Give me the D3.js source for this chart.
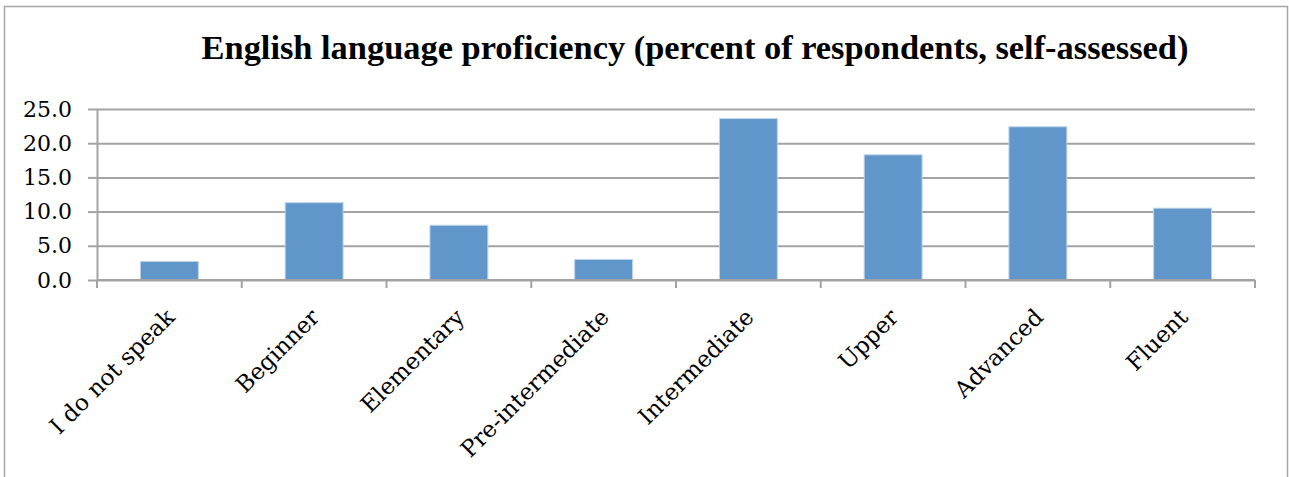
<!DOCTYPE html>
<html>
<head>
<meta charset="utf-8">
<script src="https://cdn.jsdelivr.net/npm/d3@7"></script>
<style>
  body { margin: 0; background: #fff; }
  svg { display: block; }
</style>
</head>
<body>
<div id="chart"></div>
<script>
// data
let categories = ["I do not speak", "Beginner", "Elementary", "Pre-intermediate",
    "Intermediate", "Upper", "Advanced", "Fluent"]
let values = [2.7, 11.3, 8.0, 3.0, 23.6, 18.3, 22.4, 10.5]
let yTicks = [0, 5, 10, 15, 20, 25]
let title = "English language proficiency (percent of respondents, self-assessed)"

let width = 1289, height = 477
let plot = { left: 97, right: 1255, top: 109, bottom: 280 }
let serif = "'DejaVu Serif', serif"
let gridColor = "#a3a3a3"

let svg = d3.select("#chart")
    .append("svg")
    .attr("width", width)
    .attr("height", height)

// outer frame of the chart object
svg.append("rect")
    .attr("x", 4.5)
    .attr("y", 6.5)
    .attr("width", 1283)
    .attr("height", 490)
    .attr("fill", "none")
    .attr("stroke", "#a6a6a6")
    .attr("stroke-width", 1.5)

// title
let titleText = svg.append("text")
    .attr("x", 695)
    .attr("y", 59)
    .attr("text-anchor", "middle")
    .style("font-family", "'Liberation Serif', serif")
    .style("font-weight", "bold")
    .style("font-size", "31px")
    .style("fill", "#000")
    .text(title)
// fit font size so the title spans the same width as the reference
let tw = titleText.node().getComputedTextLength()
titleText.style("font-size", (31 * 987 / tw).toFixed(2) + "px")

let x = d3.scaleBand()
    .domain(categories)
    .range([plot.left, plot.right])
    .paddingInner(0.6)
    .paddingOuter(0.3)

let y = d3.scaleLinear()
    .domain([0, 25])
    .range([plot.bottom, plot.top])

// horizontal gridlines
let grid = svg.append("g")
    .attr("transform", "translate(" + plot.left + ",0)")
    .call(d3.axisLeft(y).tickValues(yTicks).tickSize(-(plot.right - plot.left)).tickFormat(""))
grid.select(".domain").remove()
grid.selectAll("line")
    .attr("stroke", gridColor)
    .attr("stroke-width", 2)

// y axis with ticks and labels
let yAxis = svg.append("g")
    .attr("transform", "translate(" + plot.left + ",0)")
    .call(d3.axisLeft(y).tickValues(yTicks).tickSize(9).tickSizeOuter(0).tickPadding(16).tickFormat(d3.format(".1f")))
yAxis.select(".domain")
    .attr("stroke", gridColor)
    .attr("stroke-width", 2)
yAxis.selectAll("line")
    .attr("stroke", gridColor)
    .attr("stroke-width", 2)
yAxis.selectAll("text")
    .style("font-family", serif)
    .style("font-size", "22px")
    .style("fill", "#000")

// bars
svg.selectAll(".bar")
    .data(values)
    .enter()
    .append("rect")
    .attr("class", "bar")
    .attr("x", function (d, i) { return x(categories[i]) })
    .attr("y", function (d) { return y(d) })
    .attr("width", x.bandwidth())
    .attr("height", function (d) { return y(0) - y(d) })
    .attr("fill", "#6096c9")
    .attr("stroke", "#bcd2ea")
    .attr("stroke-width", 1)

// x axis: baseline and ticks between categories (Excel style)
svg.append("line")
    .attr("x1", plot.left)
    .attr("x2", plot.right)
    .attr("y1", y(0))
    .attr("y2", y(0))
    .attr("stroke", gridColor)
    .attr("stroke-width", 2)

let bounds = d3.range(categories.length + 1).map(function (i) {
    return x.range()[0] + i * x.step()
})
svg.selectAll(".xtick")
    .data(bounds)
    .enter()
    .append("line")
    .attr("class", "xtick")
    .attr("x1", function (d) { return d })
    .attr("x2", function (d) { return d })
    .attr("y1", y(0))
    .attr("y2", y(0) + 8)
    .attr("stroke", gridColor)
    .attr("stroke-width", 2)

// rotated category labels
svg.selectAll(".xlabel")
    .data(categories)
    .enter()
    .append("text")
    .attr("class", "xlabel")
    .attr("transform", function (d) {
        return "translate(" + (x(d) + x.bandwidth() / 2 + 1) + "," + (y(0) + 33) + ") rotate(-45)"
    })
    .attr("text-anchor", "end")
    .attr("dy", "0.35em")
    .style("font-family", serif)
    .style("font-size", "23px")
    .style("fill", "#000")
    .text(function (d) { return d })
</script>
</body>
</html>
